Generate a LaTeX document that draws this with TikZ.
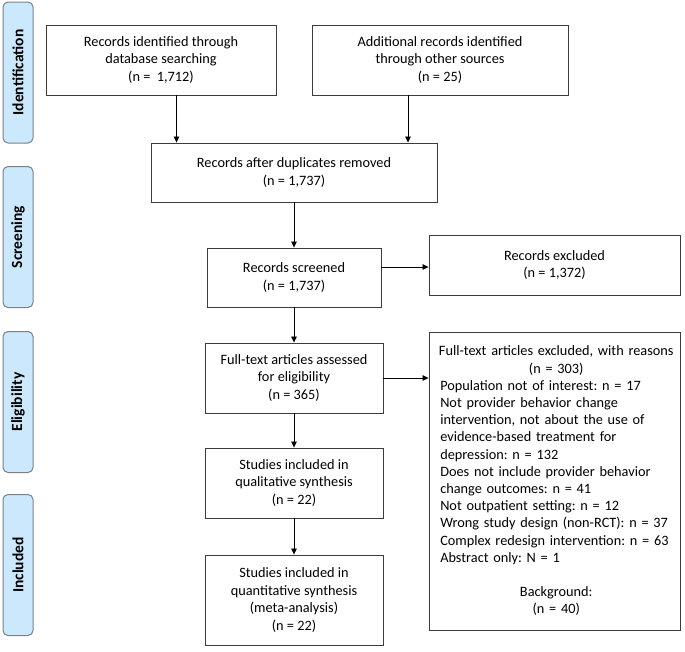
\documentclass[tikz,border=0pt]{standalone}
\usepackage{fontspec}
\setmainfont{Carlito}
\usetikzlibrary{arrows.meta}
\definecolor{sidefill}{RGB}{204,232,252}
\definecolor{sideline}{RGB}{120,130,140}
\definecolor{boxline}{RGB}{60,60,60}
\newcommand\ctrline[1]{\makebox[232pt][c]{#1}}
\begin{document}
\frenchspacing
\begin{tikzpicture}[x=1pt,y=-1pt,
  box/.style={draw=boxline,line width=0.9pt,fill=white,align=center,inner sep=0pt,
    font=\fontsize{14.3}{17.4}\selectfont},
  side/.style={draw=sideline,fill=sidefill,line width=1pt,rounded corners=5pt,
    minimum width=30pt,minimum height=141pt,inner sep=0pt},
  sidetext/.style={rotate=90,font=\fontsize{15.5}{17}\selectfont\bfseries},
  arr/.style={-{Triangle[length=6pt,width=5.5pt]},line width=0.8pt,black}]
\useasboundingbox (0,0) rectangle (685,651);
% side labels
\node[side] (s1) at (18,72.5) {};
\node[sidetext] (t1) at (s1.center) {Identification};
\node[side] (s2) at (18,237) {};
\node[sidetext] (t2) at (s2.center) {Screening};
\node[side] (s3) at (18,402) {};
\node[sidetext] (t3) at (s3.center) {Eligibility};
\node[side] (s4) at (18,565) {};
\node[sidetext] (t4) at (s4.center) {Included};
% boxes
\node[box,minimum width=230pt,minimum height=70pt] (b1) at (161,60)
  {Records identified through\\database searching\\(n =\ \ 1,712)};
\node[box,minimum width=256pt,minimum height=70pt] (b2) at (440,60)
  {Additional records identified\\through other sources\\(n = 25)};
\node[box,minimum width=286pt,minimum height=59pt] (b3) at (294,172.5)
  {Records after duplicates removed\\(n = 1,737)};
\node[box,minimum width=174pt,minimum height=59pt] (b4) at (294,277.5)
  {Records screened\\(n = 1,737)};
\node[box,minimum width=251pt,minimum height=60pt] (b5) at (554.5,265)
  {Records excluded\\(n = 1,372)};
\node[box,minimum width=178pt,minimum height=70pt] (b6) at (294,378)
  {Full-text articles assessed\\for eligibility\\(n = 365)};
\node[box,minimum width=251pt,minimum height=298pt] (b7) at (554.5,481) {};
\node[anchor=west,inner sep=0pt,text width=232pt,align=left,
  font=\fontsize{14.3}{17.2}\selectfont] (b7t) at ([xshift=11.5pt]b7.west)
  {\ctrline{Full-text articles excluded, with reasons}\\
  \ctrline{(n = 303)}\\
  Population not of interest: n = 17\\
  Not provider behavior change\\
  intervention, not about the use of\\
  evidence-based treatment for\\
  depression: n = 132\\
  Does not include provider behavior\\
  change outcomes: n = 41\\
  Not outpatient setting: n = 12\\
  Wrong study design (non-RCT): n = 37\\
  Complex redesign intervention: n = 63\\
  Abstract only: N = 1\\
  \mbox{}\\
  \ctrline{Background:}\\
  \ctrline{(n = 40)}};
\node[box,minimum width=178pt,minimum height=70pt] (b8) at (294,483)
  {Studies included in\\qualitative synthesis\\(n = 22)};
\node[box,minimum width=178pt,minimum height=90pt] (b9) at (294,600)
  {Studies included in\\quantitative synthesis\\(meta-analysis)\\(n = 22)};
% connectors
\coordinate (a1) at (176.5,0);
\coordinate (a2) at (408,0);
\coordinate (h1) at (0,267);
\draw[arr] (b1.south -| a1) -- (b3.north -| a1);
\draw[arr] (b2.south -| a2) -- (b3.north -| a2);
\draw[arr] (b3.south) -- (b4.north);
\draw[arr] (b4.east |- h1) -- (b5.west |- h1);
\draw[arr] (b4.south) -- (b6.north);
\draw[arr] (b6.east) -- (b7.west |- b6.east);
\draw[arr] (b6.south) -- (b8.north);
\draw[arr] (b8.south) -- (b9.north);
\end{tikzpicture}
\end{document}
